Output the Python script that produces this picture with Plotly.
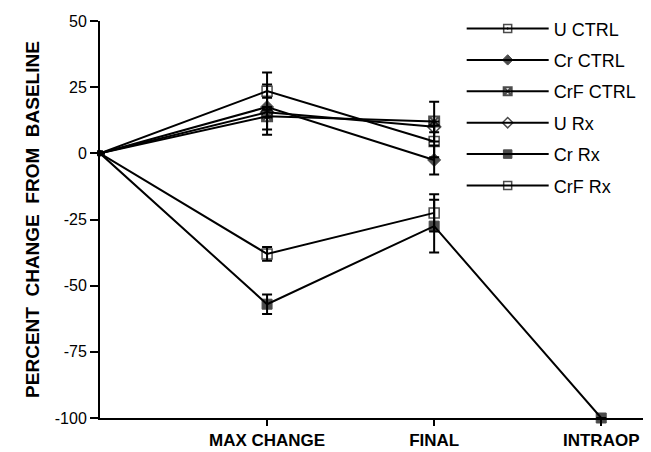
import plotly.graph_objects as go

# ---- data ----
x_pos = [0, 1, 2, 3]
tick_labels = ["MAX CHANGE", "FINAL", "INTRAOP"]
tick_pos = [1, 2, 3]
y_ticks = [50, 25, 0, -25, -50, -75, -100]
y_tick_labels = ["50", "25", "0", "-25", "-50", "-75", "-100"]

u_ctrl = [0, 23.5, 4.5]
u_ctrl_err = [0, 7, 6]
cr_ctrl = [0, 17.5, -2.5]
cr_ctrl_err = [0, 8.5, 5.5]
crf_ctrl = [0, 14, 12]
crf_ctrl_err = [0, 7, 7.5]
u_rx = [0, 15.5, 10]
u_rx_err = [0, 2, 2]
cr_rx = [0, -57, -27.5, -100]
cr_rx_err = [0, 3.7, 10, 0]
crf_rx = [0, -38, -22.5]
crf_rx_err = [0, 2.6, 7]

series = [
    ("U CTRL", u_ctrl, u_ctrl_err, "square-open-dot", 1.5),
    ("Cr CTRL", cr_ctrl, cr_ctrl_err, "diamond", 1),
    ("CrF CTRL", crf_ctrl, crf_ctrl_err, "square-x-open", 2),
    ("U Rx", u_rx, u_rx_err, "diamond-open", 1.5),
    ("Cr Rx", cr_rx, cr_rx_err, "square", 1),
    ("CrF Rx", crf_rx, crf_rx_err, "square-open", 1.5),
]

FONT = "Liberation Sans, Arial, sans-serif"

fig = go.Figure()
for i, (name, vals, err, sym, lw) in enumerate(series):
    n = len(vals)
    sizes = [4] + [10] * (n - 1)
    fig.add_trace(go.Scatter(
        x=x_pos[:n], y=vals, name=name, mode="lines+markers",
        legendgroup=name,
        line=dict(color="black", width=2),
        marker=dict(symbol=sym, size=sizes, color="black",
                    line=dict(color="black", width=lw)),
        error_y=dict(type="data", array=err, visible=True,
                     color="black", thickness=2, width=5),
        cliponaxis=False,
    ))

fig.update_layout(
    width=651, height=452,
    margin=dict(l=92, r=11, t=13, b=42, autoexpand=False),
    paper_bgcolor="white", plot_bgcolor="white",
    font=dict(family=FONT, color="black"),
    showlegend=True,
    legend=dict(x=0.66, y=1.027, xanchor="left", yanchor="top",
                font=dict(size=18), itemwidth=82,
                tracegroupgap=5, bgcolor="rgba(0,0,0,0)"),
    xaxis=dict(range=[0, 3.28], showline=True, linecolor="black", linewidth=2,
               tickvals=tick_pos, ticktext=["<b>%s</b>" % t for t in tick_labels],
               ticks="outside", ticklen=6, tickwidth=2, tickcolor="black",
               tickfont=dict(size=17, family=FONT),
               showgrid=False, zeroline=False, automargin=False),
    yaxis=dict(range=[-100, 50], showline=True, linecolor="black", linewidth=2,
               tickvals=y_ticks, ticktext=y_tick_labels,
               ticks="outside", ticklen=8, tickwidth=2, tickcolor="black",
               tickfont=dict(size=16),
               title=dict(text="<b>PERCENT  CHANGE  FROM  BASELINE</b>",
                          font=dict(size=19), standoff=10),
               showgrid=False, zeroline=False, automargin=False),
)

fig.write_html("out.html")
